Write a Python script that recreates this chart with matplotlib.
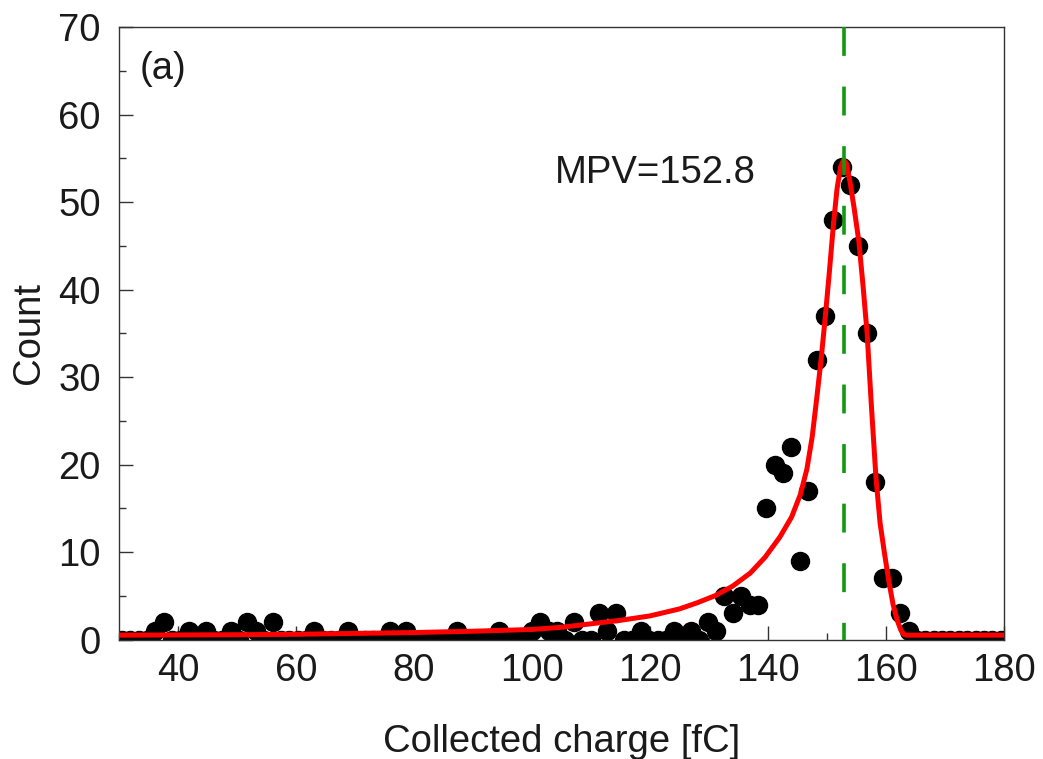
import numpy as np
import matplotlib
matplotlib.use('Agg')
from matplotlib import pyplot as plt

plt.rcParams['font.family'] = ['Liberation Sans', 'DejaVu Sans']

# histogram of collected charge, fixed bin grid
bin_lo = 30.49
bin_width = 1.4185
counts = [
    0, 0, 0, 0, 1, 2, 0, 0, 1, 0,
    1, 0, 0, 1, 0, 2, 1, 0, 2, 0,
    0, 0, 0, 1, 0, 0, 0, 1, 0, 0,
    0, 0, 1, 0, 1, 0, 0, 0, 0, 0,
    1, 0, 0, 0, 0, 1, 0, 0, 0, 1,
    2, 1, 1, 0, 2, 0, 0, 3, 1, 3,
    0, 0, 1, 0, 0, 0, 1, 0, 1, 0,
    2, 1, 5, 3, 5, 4, 4, 15, 20, 19,
    22, 9, 17, 32, 37, 48, 54, 52, 45, 35,
    18, 7, 7, 3, 1, 0, 0, 0, 0, 0,
    0, 0, 0, 0, 0, 0,
]

# Landau-Gauss fit curve
fit_x = [30, 50, 60, 70, 80, 90, 100, 105, 110, 115, 120, 125, 128, 131, 134,
         137, 139.5, 142, 144, 145.5, 146.6, 147.5, 148.3, 149, 149.7, 150.4,
         151.1, 151.7, 152.3, 152.8, 153.3, 153.9, 154.6, 155.4, 156.1, 156.8,
         157.5, 158.3, 159.0, 159.8, 160.5, 161.2, 161.9, 162.5, 163.0, 163.5, 180]
fit_y = [0.5, 0.55, 0.6, 0.7, 0.8, 0.95, 1.15, 1.4, 1.8, 2.2, 2.7, 3.5, 4.2, 5.0, 6.1,
         7.6, 9.4, 11.7, 14.0, 16.6, 19.5, 23.2, 27.8, 32.0, 36.8, 42.0,
         47.5, 51.5, 54.0, 54.8, 54.4, 52.3, 49.3, 45.5, 40.5, 35.0,
         27.0, 18.5, 13.3, 9.6, 6.6, 4.0, 2.2, 1.1, 0.6, 0.5, 0.5]

mpv = 152.8

centers = bin_lo + bin_width * np.arange(len(counts))

fig = plt.figure(figsize=(10.43, 7.59), dpi=100)
ax = fig.add_axes([0.1141, 0.1574, 0.8485, 0.807])

ax.plot(centers, counts, 'o', color='black', markersize=13, zorder=2)
ax.plot(fit_x, fit_y, color='#ff0000', lw=3.6, zorder=3)
ax.plot([mpv, mpv], [70, 0], color='#109a10', lw=2.6,
        dashes=(8.0, 8.5), zorder=4)

ax.text(33.5, 65.2, '(a)', fontsize=27.5, ha='left', va='center', color='#1a1a1a')
ax.text(103.9, 53.3, 'MPV=152.8', fontsize=27.5, ha='left', va='center', color='#1a1a1a')

ax.set_xlim(30, 180)
ax.set_ylim(0, 70)
ax.set_xticks(np.arange(40, 181, 20))
ax.set_xticks(np.arange(30, 181, 20), minor=True)
ax.set_yticks(np.arange(0, 71, 10))
ax.set_yticks(np.arange(5, 70, 10), minor=True)

ax.tick_params(which='both', direction='in', color='#333333', width=1.0,
               top=False, right=False, labelsize=27.5, labelcolor='#1a1a1a')
ax.tick_params(which='major', length=10)
ax.tick_params(which='minor', length=5)
ax.tick_params(axis='x', pad=10)
ax.tick_params(axis='y', pad=13)

for s in ax.spines.values():
    s.set_color('#333333')
    s.set_linewidth(1.0)

ax.set_xlabel('Collected charge [fC]', fontsize=27.5, color='#1a1a1a', labelpad=25)
ax.set_ylabel('Count', fontsize=27.5, color='#1a1a1a', labelpad=8)

fig.savefig('out.png', dpi=100)
